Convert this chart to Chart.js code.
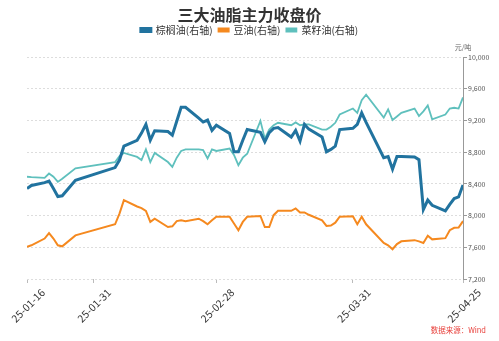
<!DOCTYPE html>
<html>
<head>
<meta charset="utf-8">
<script src="https://cdn.jsdelivr.net/npm/chart.js@4"></script>
<style>
    html, body { margin: 0; padding: 0; background: #ffffff; }
    #wrap { width: 499px; height: 341px; }
</style>
</head>
<body>
<div id="wrap"><canvas id="oilChart" width="499" height="341"></canvas></div>
<script>
// 交易日 (2025)
const dates = [
    "01-16", "01-17", "01-20", "01-21", "01-22", "01-23", "01-24", "01-27",
    "02-05", "02-06", "02-07", "02-10", "02-11", "02-12", "02-13", "02-14", "02-17", "02-18",
    "02-19", "02-20", "02-21", "02-24", "02-25", "02-26", "02-27", "02-28",
    "03-03", "03-04", "03-05", "03-06", "03-07", "03-10", "03-11", "03-12", "03-13", "03-14",
    "03-17", "03-18", "03-19", "03-20", "03-21", "03-24", "03-25", "03-26", "03-27", "03-28", "03-31",
    "04-01", "04-02", "04-03", "04-07", "04-08", "04-09", "04-10", "04-11", "04-14", "04-15",
    "04-16", "04-17", "04-18", "04-21", "04-22", "04-23", "04-24", "04-25"
];

const palmOil = [
    8340, 8380, 8415, 8435, 8340, 8240, 8250, 8445,
    8605, 8700, 8875, 8950, 9040, 9150, 8950, 9070, 9060, 9015,
    9190, 9365, 9365, 9230, 9180, 9205, 9075, 9140,
    9035, 8805, 8805, 8950, 9085, 9050, 8930, 9045, 9100, 9110,
    8990, 9075, 8940, 9150, 9090, 8990, 8805, 8835, 8875, 9085, 9100,
    9150, 9295, 9175, 8730, 8745, 8585, 8745, 8745, 8740, 8705,
    8075, 8195, 8130, 8060, 8140, 8215, 8235, 8385
];

const soybeanOil = [
    7605, 7625, 7710, 7780, 7710, 7625, 7612, 7750,
    7890, 8025, 8195, 8115, 8095, 8060, 7920, 7960, 7855, 7865,
    7930, 7940, 7930, 7960, 7930, 7890, 7940, 7985,
    7985, 7900, 7815, 7920, 7985, 7995, 7855, 7855, 8005, 8060,
    8060, 8090, 8040, 8040, 8010, 7940, 7870, 7875, 7910, 7985, 7990,
    7890, 7985, 7890, 7655, 7625, 7575, 7640, 7675, 7690, 7675,
    7655, 7745, 7700, 7715, 7815, 7845, 7848, 7930
];

const rapeseedOil = [
    8490, 8485, 8475, 8530, 8490, 8425, 8465, 8595,
    8675, 8750, 8790, 8740, 8700, 8835, 8675, 8790, 8675, 8615,
    8730, 8815, 8835, 8835, 8825, 8720, 8835, 8815,
    8845, 8765, 8635, 8730, 8780, 9195, 8970, 9085, 9140, 9170,
    9140, 9175, 9140, 9150, 9150, 9085, 9085, 9120, 9170, 9275, 9350,
    9295, 9455, 9525, 9235, 9340, 9205, 9250, 9295, 9350, 9255,
    9315, 9390, 9215, 9275, 9350, 9360, 9350, 9490
];

const seriesNames = ["棕榈油(右轴)", "豆油(右轴)", "菜籽油(右轴)"];
const xTickLabels = ["25-01-16", "25-01-31", "25-02-28", "25-03-31", "25-04-25"];
const yTickValues = [7200, 7600, 8000, 8400, 8800, 9200, 9600, 10000];

document.addEventListener("DOMContentLoaded", function () {
    const startTime = Date.UTC(2025, 0, 16);

    function dayOffset(monthDay) {
        const parts = monthDay.split("-");
        const time = Date.UTC(2025, Number(parts[0]) - 1, Number(parts[1]));
        return Math.round((time - startTime) / 86400000);
    }

    function toPoints(values) {
        return values.map(function (value, index) {
            return { x: dayOffset(dates[index]), y: value };
        });
    }

    const xTickDays = xTickLabels.map(function (label) {
        return dayOffset(label.slice(3));
    });

    const fontFamily = "'Noto Sans CJK SC', 'Noto Sans', sans-serif";

    // 图例下方留出空间, 让绘图区从固定位置开始
    const legendSpace = {
        id: "legendSpace",
        beforeInit: function (chart) {
            const originalFit = chart.legend.fit;
            chart.legend.fit = function () {
                originalFit.call(this);
                this.height = 38;
            };
        }
    };

    const extraText = {
        id: "extraText",
        afterDraw: function (chart) {
            const ctx = chart.ctx;
            const area = chart.chartArea;
            ctx.save();
            ctx.textBaseline = "middle";

            ctx.font = "bold 16px " + fontFamily;
            ctx.fillStyle = "#333333";
            ctx.textAlign = "center";
            ctx.fillText("三大油脂主力收盘价", chart.width / 2, 15);

            ctx.font = "7px " + fontFamily;
            ctx.fillStyle = "#666666";
            ctx.fillText("元/吨", area.right, area.top - 10);

            ctx.font = "7.5px " + fontFamily;
            ctx.fillStyle = "#e8413c";
            ctx.textAlign = "right";
            ctx.fillText("数据来源：Wind", 486, 330);
            ctx.restore();
        }
    };

    new Chart(document.getElementById("oilChart"), {
        type: "line",
        data: {
            datasets: [
                {
                    label: seriesNames[0],
                    data: toPoints(palmOil),
                    borderColor: "#21739f",
                    backgroundColor: "#21739f",
                    borderWidth: 3,
                    pointRadius: 0,
                    tension: 0
                },
                {
                    label: seriesNames[1],
                    data: toPoints(soybeanOil),
                    borderColor: "#f5891f",
                    backgroundColor: "#f5891f",
                    borderWidth: 2,
                    pointRadius: 0,
                    tension: 0
                },
                {
                    label: seriesNames[2],
                    data: toPoints(rapeseedOil),
                    borderColor: "#5fc0bd",
                    backgroundColor: "#5fc0bd",
                    borderWidth: 1.8,
                    pointRadius: 0,
                    tension: 0
                }
            ]
        },
        options: {
            responsive: false,
            animation: false,
            layout: {
                padding: { left: 0, right: 0, top: 19, bottom: 0 }
            },
            plugins: {
                title: { display: false },
                legend: {
                    display: true,
                    labels: {
                        color: "#333333",
                        font: { family: fontFamily, size: 10 },
                        boxWidth: 10,
                        boxHeight: 3,
                        padding: 6
                    }
                },
                tooltip: { enabled: false }
            },
            scales: {
                x: {
                    type: "linear",
                    min: xTickDays[0],
                    max: xTickDays[xTickDays.length - 1],
                    afterBuildTicks: function (axis) {
                        axis.ticks = xTickDays.map(function (day) {
                            return { value: day };
                        });
                    },
                    afterFit: function (axis) {
                        axis.paddingLeft = 27;
                        axis.paddingRight = 0;
                        axis.height = 62;
                    },
                    ticks: {
                        autoSkip: false,
                        minRotation: 45,
                        maxRotation: 45,
                        padding: 3,
                        labelOffset: 16,
                        color: "#333333",
                        font: { family: fontFamily, size: 10.5 },
                        callback: function (value) {
                            const index = xTickDays.indexOf(value);
                            return index >= 0 ? xTickLabels[index] : "";
                        }
                    },
                    grid: {
                        display: true,
                        drawOnChartArea: false,
                        tickLength: 4,
                        color: "#bbbbbb"
                    },
                    border: { display: false }
                },
                y: {
                    position: "right",
                    min: yTickValues[0],
                    max: yTickValues[yTickValues.length - 1],
                    afterBuildTicks: function (axis) {
                        axis.ticks = yTickValues.map(function (value) {
                            return { value: value };
                        });
                    },
                    afterFit: function (axis) {
                        axis.width = 36;
                    },
                    ticks: {
                        padding: 1,
                        color: "#555555",
                        font: { family: fontFamily, size: 7 },
                        callback: function (value) {
                            return value.toLocaleString("en-US");
                        }
                    },
                    grid: {
                        color: "#dddddd",
                        tickColor: "#999999",
                        tickLength: 4
                    },
                    border: {
                        display: true,
                        color: "#999999",
                        dash: [2, 2]
                    }
                }
            }
        },
        plugins: [legendSpace, extraText]
    });
});
</script>
</body>
</html>
